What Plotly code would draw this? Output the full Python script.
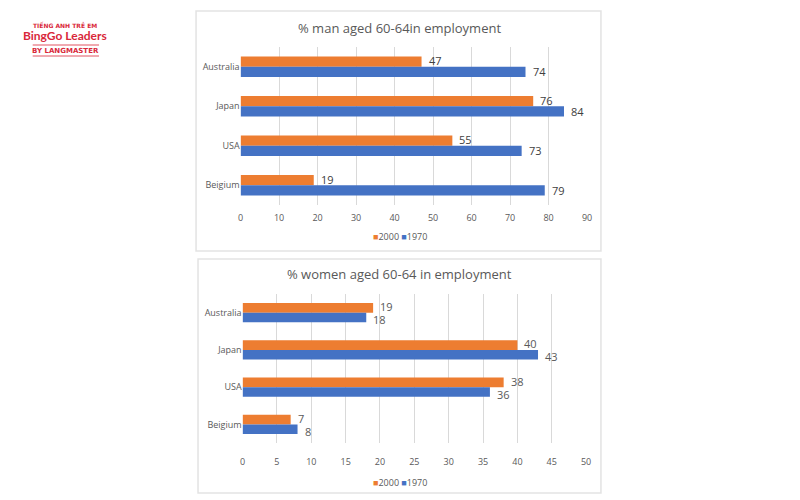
import plotly.graph_objects as go

categories = ["Australia", "Japan", "USA", "Beigium"]
men_2000 = [47, 76, 55, 19]
men_1970 = [74, 84, 73, 79]
women_2000 = [19, 40, 38, 7]
women_1970 = [18, 43, 36, 8]
men_ticks = list(range(0, 91, 10))
women_ticks = list(range(0, 51, 5))
series_names = ["2000", "1970"]

ORANGE = "#ED7D31"
BLUE = "#4472C4"
FONT = "Open Sans"
W, H = 800, 500

fig = go.Figure()

def px_x(p):
    return p / W

def px_y(p):
    return 1 - p / H

def add(vals, name, color, xa, ya):
    fig.add_trace(go.Bar(
        y=categories, x=vals, name=name, orientation="h",
        marker=dict(color=color, line=dict(width=0)),
        showlegend=False, xaxis=xa, yaxis=ya,
    ))

def labels(vals, xa, ya, shift, color):
    for c, v in zip(categories, vals):
        fig.add_annotation(text=str(v), x=v, y=c, xref=xa, yref=ya,
                           xanchor="left", yanchor="middle", xshift=5, yshift=shift,
                           showarrow=False, font=dict(family=FONT, size=11, color=color))

add(men_2000, series_names[0], ORANGE, "x", "y")
add(men_1970, series_names[1], BLUE, "x", "y")
add(women_2000, series_names[0], ORANGE, "x2", "y2")
add(women_1970, series_names[1], BLUE, "x2", "y2")

labels(men_2000, "x", "y", 6, "#404040")
labels(men_1970, "x", "y", -5, "#404040")
labels(women_2000, "x2", "y2", 6, "#595959")
labels(women_1970, "x2", "y2", -7, "#595959")

tickfont = dict(family=FONT, size=9, color="#595959")
grid = "#d9d9d9"

fig.update_layout(
    width=W, height=H,
    margin=dict(l=0, r=0, t=0, b=0),
    paper_bgcolor="white", plot_bgcolor="white",
    barmode="group", bargap=0.48, bargroupgap=0,
    showlegend=False,
    xaxis=dict(domain=[px_x(240), px_x(590)], range=[0, 90], tickvals=men_ticks,
               showgrid=True, gridcolor=grid, gridwidth=1, zeroline=False,
               tickfont=tickfont, anchor="y", showline=False, ticks="",
               ticklabelstandoff=6),
    yaxis=dict(domain=[px_y(205), px_y(47)], autorange="reversed", anchor="x",
               tickfont=tickfont, showgrid=False, ticks="", showline=False),
    xaxis2=dict(domain=[px_x(242), px_x(589)], range=[0, 50], tickvals=women_ticks,
                showgrid=True, gridcolor=grid, gridwidth=1, zeroline=False,
                tickfont=tickfont, anchor="y2", showline=False, ticks="",
                ticklabelstandoff=12),
    yaxis2=dict(domain=[px_y(443), px_y(294)], autorange="reversed", anchor="x2",
                tickfont=tickfont, showgrid=False, ticks="", showline=False),
    font=dict(family=FONT),
)

def ann(text, x, y, size, color, family=FONT):
    fig.add_annotation(text=text, xref="paper", yref="paper", x=px_x(x), y=px_y(y),
                       xanchor="center", yanchor="middle", showarrow=False,
                       font=dict(family=family, size=size, color=color))

legend_text = (f'<span style="color:{ORANGE}">■</span>{series_names[0]} '
               f'<span style="color:{BLUE}">■</span>{series_names[1]}')
ann(legend_text, 401, 236, 9, "#595959")
ann(legend_text, 401, 482, 9, "#595959")

frame = "#e3e3e3"
fig.add_shape(type="rect", xref="paper", yref="paper", x0=px_x(195), x1=px_x(604),
              y0=px_y(251), y1=px_y(11), line=dict(color=frame, width=1.5), layer="below")
fig.add_shape(type="rect", xref="paper", yref="paper", x0=px_x(197), x1=px_x(604),
              y0=px_y(493), y1=px_y(259), line=dict(color=frame, width=1.5), layer="below")

ann("% man aged 60-64in employment", 400, 28, 13, "#595959")
ann("% women aged 60-64 in employment", 400, 274, 13, "#595959")

RED = "#d9283a"
ann("<b>TIẾNG ANH TRẺ EM</b>", 63, 25, 6, RED, "DejaVu Sans")
ann("<b>BingGo Leaders</b>", 63, 35, 12, RED, "Lato")
ann("<b>BY LANGMASTER</b>", 63, 51, 7, RED, "DejaVu Sans")
for yy in (45, 56):
    fig.add_shape(type="line", xref="paper", yref="paper", x0=px_x(30), x1=px_x(97),
                  y0=px_y(yy), y1=px_y(yy), line=dict(color=RED, width=0.8))

fig.write_html("out.html")
